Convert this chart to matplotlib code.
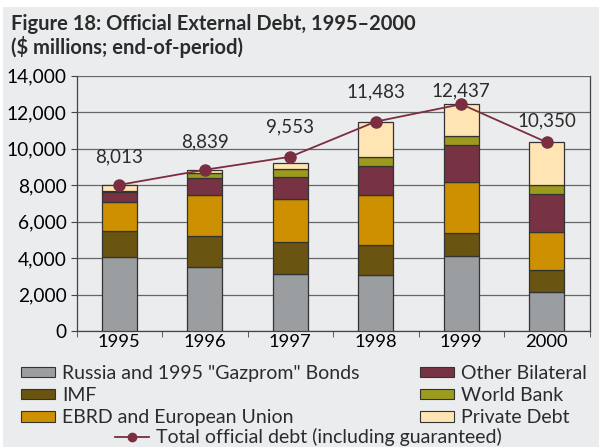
import matplotlib
matplotlib.use("Agg")
import matplotlib.pyplot as plt
from matplotlib.patches import Patch, Rectangle
from matplotlib.lines import Line2D
from matplotlib.ticker import FuncFormatter, MultipleLocator
import numpy as np

# Official external debt, $ millions, end-of-period
years = ["1995", "1996", "1997", "1998", "1999", "2000"]
russia_gazprom = [4050, 3490, 3130, 3070, 4130, 2160]
imf = [1450, 1730, 1740, 1650, 1270, 1200]
ebrd_eu = [1550, 2240, 2370, 2750, 2760, 2090]
other_bilateral = [550, 920, 1210, 1570, 2060, 2080]
world_bank = [90, 310, 420, 500, 470, 450]
private_debt = [330, 130, 350, 1940, 1750, 2370]
total_official = [8013, 8839, 9553, 11483, 12437, 10350]

series_names = ['Russia and 1995 "Gazprom" Bonds', "IMF", "EBRD and European Union",
                "Other Bilateral", "World Bank", "Private Debt"]
series_colors = ["#9b9ea1", "#6a5411", "#cc9000", "#773344", "#9c9b1e", "#ffe5b4"]
line_color = "#7b2e40"
bg = "#ebecee"

plt.rcParams["font.family"] = ["Lato", "DejaVu Sans"]
plt.rcParams["text.color"] = "#2b2b2b"

fig = plt.figure(figsize=(5.99, 4.47), dpi=100)
fig.patch.set_facecolor("white")
# grey panel behind everything (thin white margin top and left)
fig.patches.append(Rectangle((3 / 599, 0), 1, 1 - 7 / 447, transform=fig.transFigure,
                             facecolor=bg, edgecolor="none", zorder=-10))

ax = fig.add_axes([76.5 / 599, 1 - 331 / 447, 513 / 599, (331 - 75.7) / 447])
ax.set_facecolor(bg)

x = np.arange(len(years))
stack = [russia_gazprom, imf, ebrd_eu, other_bilateral, world_bank, private_debt]
bottom = np.zeros(len(years))
for vals, col in zip(stack, series_colors):
    ax.bar(x, vals, bottom=bottom, width=0.41, color=col, edgecolor="#333333",
           linewidth=0.9, zorder=3)
    bottom += np.array(vals)

ax.plot(x, total_official, color=line_color, linewidth=1.3, marker="o",
        markersize=8, zorder=5)

# value labels above the total line (pixel offsets)
label_offsets = [28, 28, 30, 30, 13, 21]
for xi, v, off in zip(x, total_official, label_offsets):
    ax.annotate(f"{v:,}", (xi, v), xytext=(0, off * 0.72), textcoords="offset points",
                ha="center", va="center", fontsize=13.5, color="#2b2b2b", zorder=6)

ax.set_xlim(-0.5, len(years) - 0.5)
ax.set_ylim(0, 14000)
ax.yaxis.set_major_locator(MultipleLocator(2000))
ax.yaxis.set_major_formatter(FuncFormatter(lambda v, p: f"{int(v):,}"))
ax.set_xticks(x)
ax.set_xticklabels(years)
ax.set_xticks(np.arange(-0.5, len(years)), minor=True)
ax.tick_params(axis="x", which="major", length=0, labelsize=13.2, pad=2)
ax.tick_params(axis="x", which="minor", length=4, direction="out", color="#444444")
ax.tick_params(axis="y", length=4, labelsize=13.8, pad=3, color="#444444")
ax.yaxis.grid(True, color="#666666", linewidth=0.9, zorder=0)
ax.set_axisbelow(True)
for s in ["left", "bottom", "right"]:
    ax.spines[s].set_color("#444444")
    ax.spines[s].set_linewidth(0.9)
ax.spines["top"].set_visible(False)

fig.text(11 / 599, 1 - 24 / 447, "Figure 18: Official External Debt, 1995\u20132000",
         fontsize=14.5, fontweight="bold", va="center", ha="left")
fig.text(11 / 599, 1 - 47 / 447, "($ millions; end-of-period)",
         fontsize=14.5, fontweight="bold", va="center", ha="left")

handles = [Patch(facecolor=c, edgecolor="#333333", linewidth=0.8) for c in series_colors]
common = dict(frameon=False, fontsize=14, handlelength=1.75, handleheight=0.47,
              handletextpad=0.36, labelspacing=0.26, borderpad=0, borderaxespad=0,
              loc="upper left")
leg1 = fig.legend(handles[:3], series_names[:3], bbox_to_anchor=(21 / 599, 1 - 365 / 447), **common)
leg2 = fig.legend(handles[3:], series_names[3:], bbox_to_anchor=(420 / 599, 1 - 365 / 447), **common)
line_handle = Line2D([], [], color=line_color, linewidth=1.3, marker="o", markersize=6)
leg3 = fig.legend([line_handle], ["Total official debt (including guaranteed)"],
                  bbox_to_anchor=(115 / 599, 1 - 428 / 447), **common)

fig.savefig("out.png", dpi=100, facecolor=fig.get_facecolor())
